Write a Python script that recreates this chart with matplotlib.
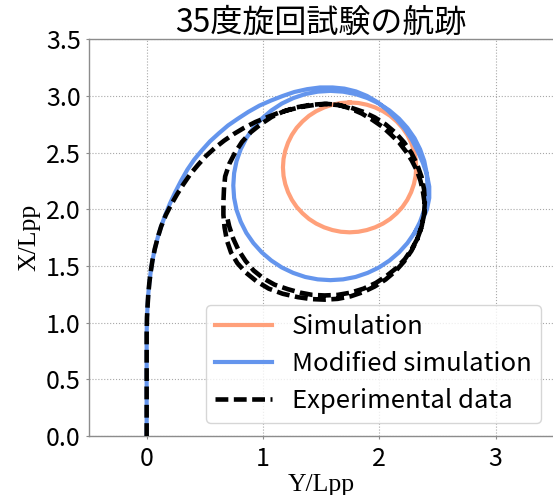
import matplotlib
matplotlib.use("Agg")
import matplotlib.pyplot as plt

# ---- trajectories (horizontal axis: Y/Lpp, vertical axis: X/Lpp) ----
# Simulation: steady turning circle
sim_y = [1.745, 1.820, 1.893, 1.964, 2.032, 2.094, 2.150, 2.200, 2.241, 2.274,
         2.298, 2.313, 2.318, 2.313, 2.298, 2.274, 2.241, 2.200, 2.150, 2.094,
         2.032, 1.964, 1.893, 1.820, 1.745, 1.670, 1.597, 1.526, 1.458, 1.396,
         1.340, 1.290, 1.249, 1.216, 1.192, 1.177, 1.172, 1.177, 1.192, 1.216,
         1.249, 1.290, 1.340, 1.396, 1.458, 1.526, 1.597, 1.670, 1.745]
sim_x = [2.943, 2.938, 2.923, 2.899, 2.866, 2.825, 2.775, 2.719, 2.657, 2.589,
         2.518, 2.445, 2.370, 2.295, 2.222, 2.151, 2.083, 2.021, 1.965, 1.915,
         1.874, 1.841, 1.817, 1.802, 1.797, 1.802, 1.817, 1.841, 1.874, 1.915,
         1.965, 2.021, 2.083, 2.151, 2.222, 2.295, 2.370, 2.445, 2.518, 2.589,
         2.657, 2.719, 2.775, 2.825, 2.866, 2.899, 2.923, 2.938, 2.943]

# Modified simulation: approach, first loop and steady loop
mod_y = [0, 0, 0, 0.003, 0.008, 0.014, 0.023, 0.035, 0.05, 0.07, 0.095, 0.125,
         0.16, 0.2, 0.245, 0.295, 0.35, 0.41, 0.475, 0.545, 0.62, 0.70, 0.785,
         0.875, 0.97, 1.07, 1.17, 1.27, 1.38, 1.49, 1.60, 1.70, 1.80, 1.895,
         1.985, 2.07, 2.15, 2.22, 2.28, 2.33, 2.375, 2.41, 2.43, 2.43, 2.41,
         2.37,
         2.303, 2.242, 2.170, 2.088, 1.998, 1.900, 1.796, 1.689, 1.580, 1.471,
         1.364, 1.260, 1.162, 1.072, 0.990, 0.918, 0.857, 0.809, 0.773, 0.752,
         0.745, 0.752, 0.773, 0.809, 0.857, 0.918, 0.990, 1.072, 1.162, 1.260,
         1.364, 1.471, 1.580, 1.689, 1.796, 1.900, 1.998, 2.088, 2.170, 2.242,
         2.303, 2.351, 2.387, 2.408, 2.415, 2.408, 2.387, 2.351, 2.303]
mod_x = [0, 0.5, 0.9, 1.05, 1.15, 1.25, 1.35, 1.45, 1.55, 1.65, 1.75, 1.85,
         1.95, 2.05, 2.15, 2.25, 2.35, 2.44, 2.52, 2.6, 2.67, 2.74, 2.80, 2.86,
         2.915, 2.96, 3.0, 3.035, 3.06, 3.075, 3.075, 3.065, 3.04, 3.0, 2.945,
         2.875, 2.795, 2.71, 2.615, 2.515, 2.41, 2.305, 2.2, 2.1, 2.0, 1.9,
         1.792, 1.702, 1.620, 1.548, 1.487, 1.439, 1.403, 1.382, 1.375, 1.382,
         1.403, 1.439, 1.487, 1.548, 1.620, 1.702, 1.792, 1.890, 1.994, 2.101,
         2.210, 2.319, 2.426, 2.530, 2.628, 2.718, 2.800, 2.872, 2.933, 2.981,
         3.017, 3.038, 3.045, 3.038, 3.017, 2.981, 2.933, 2.872, 2.800, 2.718,
         2.628, 2.530, 2.426, 2.319, 2.210, 2.101, 1.994, 1.890, 1.792]

# Experimental data: approach and two loops
exp_y = [0, 0, 0, 0.003, 0.008, 0.014, 0.023, 0.035, 0.05, 0.07, 0.095, 0.125,
         0.165, 0.21, 0.26, 0.315, 0.375, 0.44, 0.51, 0.585, 0.665, 0.75, 0.84,
         0.935, 1.03, 1.13, 1.235, 1.34, 1.45, 1.55, 1.65, 1.75, 1.85, 1.94,
         2.025, 2.1, 2.17, 2.23, 2.28, 2.325, 2.355, 2.375, 2.388, 2.39,
         2.385, 2.363, 2.326, 2.277, 2.214, 2.140, 2.055, 1.961, 1.860, 1.753,
         1.643, 1.530, 1.415, 1.30, 1.17, 1.05, 0.945, 0.855, 0.78, 0.725, 0.69,
         0.67, 0.66, 0.66, 0.665, 0.675, 0.71, 0.76, 0.82, 0.895, 0.98, 1.075,
         1.18, 1.29, 1.41, 1.53, 1.643, 1.753, 1.860, 1.961, 2.055, 2.140,
         2.214, 2.277, 2.326, 2.363, 2.385, 2.392,
         2.385, 2.365, 2.33, 2.28, 2.22, 2.145, 2.06, 1.97, 1.865, 1.755, 1.643,
         1.53, 1.425, 1.32, 1.215, 1.10, 1.005, 0.92, 0.85, 0.79, 0.745, 0.71,
         0.69]
exp_x = [0, 0.5, 0.9, 1.05, 1.15, 1.25, 1.35, 1.45, 1.55, 1.65, 1.75, 1.85,
         1.95, 2.04, 2.13, 2.22, 2.31, 2.39, 2.47, 2.54, 2.605, 2.665, 2.72,
         2.77, 2.81, 2.85, 2.88, 2.905, 2.922, 2.93, 2.922, 2.89, 2.845, 2.79,
         2.73, 2.66, 2.59, 2.51, 2.43, 2.34, 2.25, 2.16, 2.07, 1.99,
         1.952, 1.842, 1.735, 1.634, 1.540, 1.455, 1.381, 1.319, 1.269, 1.232,
         1.210, 1.203, 1.208, 1.225, 1.255, 1.30, 1.365, 1.44, 1.525, 1.62,
         1.725, 1.84, 1.95, 2.065, 2.18, 2.29, 2.40, 2.50, 2.595, 2.68, 2.75,
         2.815, 2.865, 2.90, 2.922, 2.93, 2.92, 2.898, 2.861, 2.811, 2.749,
         2.675, 2.590, 2.496, 2.395, 2.288, 2.178, 2.065,
         1.955, 1.85, 1.745, 1.65, 1.56, 1.48, 1.41, 1.35, 1.30, 1.265, 1.245,
         1.24, 1.245, 1.265, 1.295, 1.335, 1.39, 1.46, 1.545, 1.64, 1.74, 1.85,
         1.94]

x_ticks = [0, 1, 2, 3]
x_ticklabels = ["0", "1", "2", "3"]
y_ticks = [0.0, 0.5, 1.0, 1.5, 2.0, 2.5, 3.0, 3.5]
y_ticklabels = ["0.0", "0.5", "1.0", "1.5", "2.0", "2.5", "3.0", "3.5"]

title_text = "35度旋回試験の航跡"
labels = ["Simulation", "Modified simulation", "Experimental data"]

sans = ["Noto Sans CJK JP", "DejaVu Sans"]
serif = ["Liberation Serif", "DejaVu Serif"]
plt.rcParams["font.family"] = sans

fig = plt.figure(figsize=(5.53, 4.95), dpi=100)
ax = fig.add_axes([88.5 / 553, 59 / 495, 465.2 / 553, 396.7 / 495])

ax.plot(sim_y, sim_x, color="#FFA07A", lw=3.0, label=labels[0], zorder=3,
        solid_joinstyle="round")
ax.plot(mod_y, mod_x, color="#6495ED", lw=3.0, label=labels[1], zorder=4,
        solid_joinstyle="round")
ax.plot(exp_y, exp_x, color="black", lw=3.3, linestyle=(0, (2.8, 1.2)),
        label=labels[2], zorder=5)

ax.set_xlim(-0.5, 3.5)
ax.set_ylim(0, 3.5)
ax.set_xticks(x_ticks)
ax.set_xticklabels(x_ticklabels)
ax.set_yticks(y_ticks)
ax.set_yticklabels(y_ticklabels)

ax.grid(True, linestyle=":", color="#a8a8a8", linewidth=0.8)
for sp in ax.spines.values():
    sp.set_color("#8c8c8c")
    sp.set_linewidth(1.0)
ax.tick_params(axis="both", length=2.5, width=0.8, color="#8c8c8c",
               labelsize=18)
ax.tick_params(axis="y", pad=3)
ax.tick_params(axis="x", pad=5)

ax.set_xlabel("Y/Lpp", fontfamily=serif, fontsize=18.5, labelpad=1.5)
ax.set_ylabel("X/Lpp", fontfamily=serif, fontsize=18.5, labelpad=4)
ax.set_title(title_text, fontsize=23, pad=2)

ax.legend(loc="lower right", fontsize=18.5, handlelength=2.2,
          handletextpad=0.8, borderpad=0.35, labelspacing=0.43)

fig.savefig("out.png", dpi=100)
